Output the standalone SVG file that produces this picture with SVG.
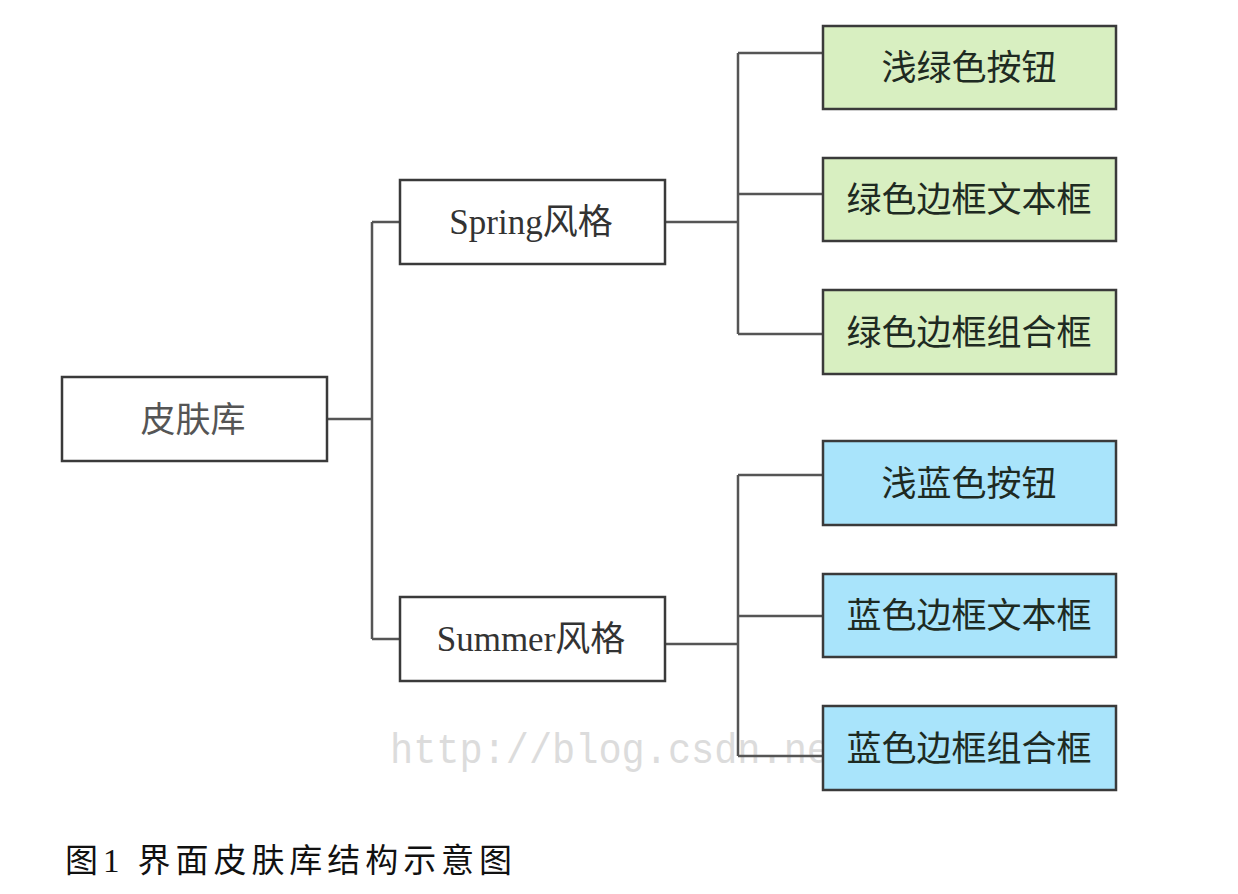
<svg xmlns="http://www.w3.org/2000/svg" width="1238" height="894" viewBox="0 0 1238 894">
<style>
.box{stroke:#3a3a3a;stroke-width:2.5}
.w{fill:#ffffff}
.g{fill:#d8efc1}
.b{fill:#a9e4fb}
.lbl{font-family:"Noto Sans CJK SC","Liberation Sans",sans-serif;font-size:35px;fill:#1e2a22;text-anchor:middle}
.ser{font-family:"Liberation Serif","Noto Sans CJK SC",serif;font-size:35px;fill:#333;text-anchor:middle}
.conn{fill:none;stroke:#555;stroke-width:2.5}
.wm{font-family:"Liberation Mono","DejaVu Sans Mono",monospace;font-size:42px;fill:#dcdcdc}
.cap{font-family:"Liberation Serif","Noto Sans CJK SC",serif;font-size:33px;fill:#111}
</style>
<rect width="1238" height="894" fill="#ffffff"/>
<text class="wm" x="390" y="763" textLength="440" lengthAdjust="spacingAndGlyphs">http://blog.csdn.ne</text>
<g id="connectors">
<path class="conn" d="M327 419 H372 M372 222 V639 M372 222 H400 M372 639 H400"/>
<path class="conn" d="M665 222 H738 M738 53 V334 M738 53 H823 M738 194 H823 M738 334 H823"/>
<path class="conn" d="M665 644 H738 M738 475 V756 M738 475 H823 M738 616 H823 M738 756 H823"/>
</g>
<g id="root"><rect class="box w" x="62" y="377" width="265" height="84"/><text class="lbl" x="193" y="432" style="fill:#555">皮肤库</text></g>
<g id="spring"><rect class="box w" x="400" y="180" width="265" height="84"/><text class="ser" x="531" y="234">Spring风格</text></g>
<g id="summer"><rect class="box w" x="400" y="597" width="265" height="84"/><text class="ser" x="531" y="651">Summer风格</text></g>
<g id="g1"><rect class="box g" x="823" y="26" width="293" height="83"/><text class="lbl" x="969" y="80">浅绿色按钮</text></g>
<g id="g2"><rect class="box g" x="823" y="158" width="293" height="83"/><text class="lbl" x="969" y="212">绿色边框文本框</text></g>
<g id="g3"><rect class="box g" x="823" y="290" width="293" height="84"/><text class="lbl" x="969" y="345">绿色边框组合框</text></g>
<g id="b1"><rect class="box b" x="823" y="441" width="293" height="84"/><text class="lbl" x="969" y="496">浅蓝色按钮</text></g>
<g id="b2"><rect class="box b" x="823" y="574" width="293" height="83"/><text class="lbl" x="969" y="628">蓝色边框文本框</text></g>
<g id="b3"><rect class="box b" x="823" y="706" width="293" height="84"/><text class="lbl" x="969" y="761">蓝色边框组合框</text></g>
<text class="cap" x="65" y="872" textLength="447" lengthAdjust="spacing">图1 界面皮肤库结构示意图</text>
</svg>
